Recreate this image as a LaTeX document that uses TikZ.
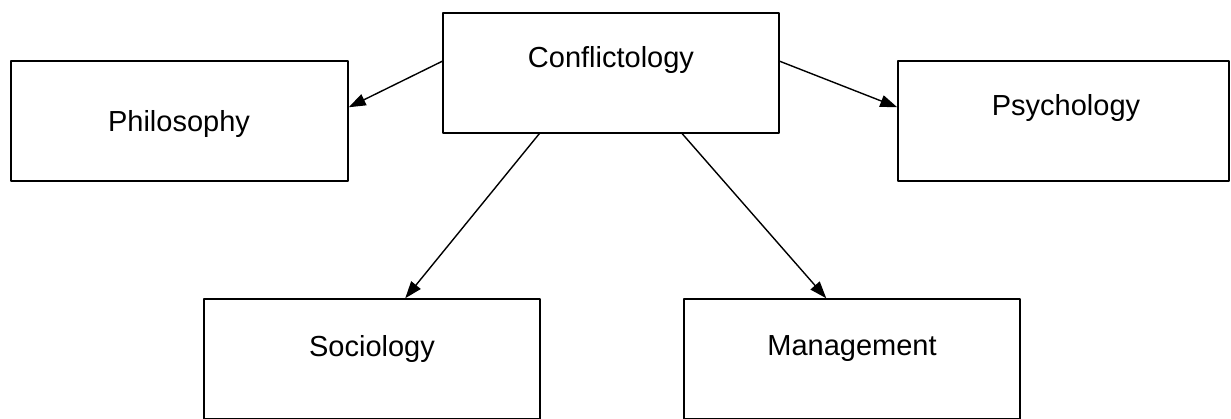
\documentclass[tikz,border=0pt]{standalone}
\usepackage{fontspec}
\setmainfont{Liberation Sans}
\usetikzlibrary{arrows.meta}
\tikzset{
	box/.style={draw, line width=1.5pt, minimum width=336pt, minimum height=120pt, inner sep=0pt},
	lbl/.style={inner sep=0pt, font=\fontsize{29}{34}\selectfont},
	conn/.style={->, line width=1.4pt}
}
\begin{document}
\begin{tikzpicture}[x=1pt,y=-1pt,>={Triangle[length=17pt,width=12pt]}, line join=round, line cap=round]
	\useasboundingbox (0,0) rectangle (1231,418);
	%\draw[color=gray!50,dashed] (0,0) grid[step=100] (1231,418);
	\clip (0,0) rectangle (1231,418);
	\node[box] (con) at (611,73) {};
	\node[box, minimum width=337pt] (phi) at (179.5,121) {};
	\node[box, minimum width=331pt] (psy) at (1063.5,121) {};
	\node[box] (soc) at (372,359) {};
	\node[box] (man) at (852,359) {};
	\node[lbl] (conT) at (611,60) {Conflictology};
	\node[lbl] (phiT) at (179,124) {Philosophy};
	\node[lbl] (psyT) at (1066,108) {Psychology};
	\node[lbl] (socT) at (372,349) {Sociology};
	\node[lbl] (manT) at (852,349) {Management};
	\draw[conn] ([yshift=-49pt]con.north west)--([yshift=-47pt]phi.north east);
	\draw[conn] ([yshift=-49pt]con.north east)--([yshift=-47pt]psy.north west);
	\draw[conn] ([xshift=97pt]con.south west)--([xshift=202pt]soc.north west);
	\draw[conn] ([xshift=240pt]con.south west)--([xshift=143pt]man.north west);
\end{tikzpicture}
\end{document}
